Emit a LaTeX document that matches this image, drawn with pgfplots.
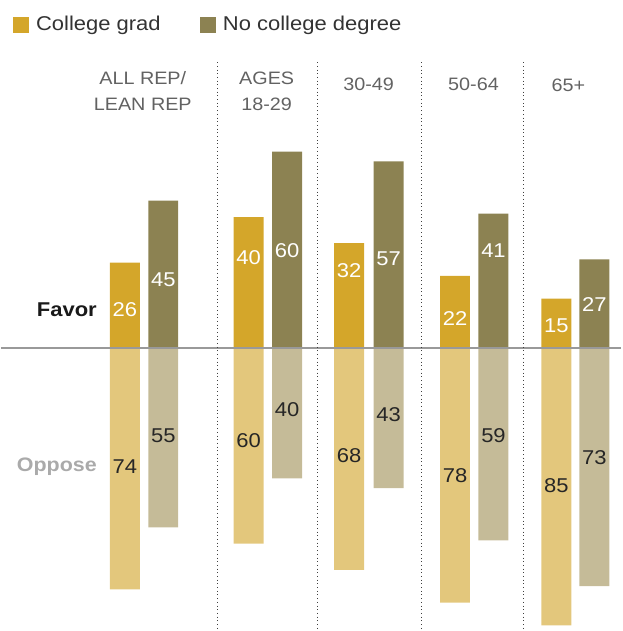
\documentclass[border=0pt]{standalone}
\usepackage{pgfplots}
\pgfplotsset{compat=1.18}
\usepackage{fontspec}
\setmainfont{Liberation Sans}[FakeStretch=1.1]
\definecolor{cg}{HTML}{D4A62A}
\definecolor{nc}{HTML}{8C8252}
\definecolor{cgl}{HTML}{E3C77C}
\definecolor{ncl}{HTML}{C5BB98}
\definecolor{hdr}{HTML}{626262}
\definecolor{opp}{HTML}{AAAAAA}
\definecolor{base}{HTML}{999999}
\begin{document}
\begin{tikzpicture}
\begin{axis}[
  scale only axis, width=621pt, height=631pt,
  xmin=0, xmax=621, ymin=-86.54, ymax=106.42,
  hide axis, clip=false,
  every axis plot/.append style={ybar, bar width=30, bar shift=0pt, draw=none},
]
\path (axis cs:0,-86.54) rectangle (axis cs:621,106.42);
% favor
\addplot[fill=cg] coordinates {(124,26) (248,40) (348.5,32) (454.5,22) (556,15)};
\addplot[fill=nc] coordinates {(162.5,45) (286.5,60) (388,57) (493,41) (594,27)};
% oppose
\addplot[fill=cgl] coordinates {(124,-74) (248,-60) (348.5,-68) (454.5,-78) (556,-85)};
\addplot[fill=ncl] coordinates {(162.5,-55) (286.5,-40) (388,-43) (493,-59) (594,-73)};
% baseline
\draw[base, line width=1.8pt] (axis cs:0,0) -- (axis cs:621,0);
% separators
\draw[black!75, line width=1.1pt, dash pattern=on 0.7pt off 3pt] (axis cs:217,87.4) -- (axis cs:217,-86.54);
\draw[black!75, line width=1.1pt, dash pattern=on 0.7pt off 3pt] (axis cs:317,87.4) -- (axis cs:317,-86.54);
\draw[black!75, line width=1.1pt, dash pattern=on 0.7pt off 3pt] (axis cs:421,87.4) -- (axis cs:421,-86.54);
\draw[black!75, line width=1.1pt, dash pattern=on 0.7pt off 3pt] (axis cs:523,87.4) -- (axis cs:523,-86.54);
% legend
\fill[cg] (axis cs:12,101.3) rectangle (axis cs:28,96.4);
\node[anchor=west, inner sep=0pt, font=\fontsize{20}{22}\selectfont, text=black!80] at (axis cs:35,98.8) {College grad};
\fill[nc] (axis cs:199,101.3) rectangle (axis cs:215,96.4);
\node[anchor=west, inner sep=0pt, font=\fontsize{20}{22}\selectfont, text=black!80] at (axis cs:222,98.8) {No college degree};
% headers
\node[font=\fontsize{18}{19}\selectfont, text=hdr] at (axis cs:142,82.6) {ALL REP/};
\node[font=\fontsize{18}{19}\selectfont, text=hdr] at (axis cs:142,74.6) {LEAN REP};
\node[font=\fontsize{18}{19}\selectfont, text=hdr] at (axis cs:266,82.6) {AGES};
\node[font=\fontsize{18}{19}\selectfont, text=hdr] at (axis cs:266,74.6) {18-29};
\node[font=\fontsize{18}{19}\selectfont, text=hdr] at (axis cs:368,80.7) {30-49};
\node[font=\fontsize{18}{19}\selectfont, text=hdr] at (axis cs:473,80.7) {50-64};
\node[font=\fontsize{18}{19}\selectfont, text=hdr] at (axis cs:568,80.4) {65+};
% row labels
\node[font=\bfseries\fontsize{20}{22}\selectfont, text=black!90] at (axis cs:66,11.6) {Favor};
\node[font=\bfseries\fontsize{19.5}{22}\selectfont, text=opp] at (axis cs:56,-36.4) {Oppose};
% value labels
\node[font=\fontsize{20}{22}\selectfont, text=white] at (axis cs:124,11.6) {26};
\node[font=\fontsize{20}{22}\selectfont, text=white] at (axis cs:248,27.5) {40};
\node[font=\fontsize{20}{22}\selectfont, text=white] at (axis cs:348.5,23.5) {32};
\node[font=\fontsize{20}{22}\selectfont, text=white] at (axis cs:454.5,8.9) {22};
\node[font=\fontsize{20}{22}\selectfont, text=white] at (axis cs:556,6.7) {15};
\node[font=\fontsize{20}{22}\selectfont, text=white] at (axis cs:162.5,20.8) {45};
\node[font=\fontsize{20}{22}\selectfont, text=white] at (axis cs:286.5,29.7) {60};
\node[font=\fontsize{20}{22}\selectfont, text=white] at (axis cs:388,27.2) {57};
\node[font=\fontsize{20}{22}\selectfont, text=white] at (axis cs:493,29.7) {41};
\node[font=\fontsize{20}{22}\selectfont, text=white] at (axis cs:594,13.1) {27};
\node[font=\fontsize{20}{22}\selectfont, text=black!85] at (axis cs:124,-36.4) {74};
\node[font=\fontsize{20}{22}\selectfont, text=black!85] at (axis cs:248,-28.4) {60};
\node[font=\fontsize{20}{22}\selectfont, text=black!85] at (axis cs:348.5,-33.0) {68};
\node[font=\fontsize{20}{22}\selectfont, text=black!85] at (axis cs:454.5,-39.1) {78};
\node[font=\fontsize{20}{22}\selectfont, text=black!85] at (axis cs:556,-42.2) {85};
\node[font=\fontsize{20}{22}\selectfont, text=black!85] at (axis cs:162.5,-26.9) {55};
\node[font=\fontsize{20}{22}\selectfont, text=black!85] at (axis cs:286.5,-19.0) {40};
\node[font=\fontsize{20}{22}\selectfont, text=black!85] at (axis cs:388,-20.5) {43};
\node[font=\fontsize{20}{22}\selectfont, text=black!85] at (axis cs:493,-26.9) {59};
\node[font=\fontsize{20}{22}\selectfont, text=black!85] at (axis cs:594,-33.6) {73};
\end{axis}
\end{tikzpicture}
\end{document}
